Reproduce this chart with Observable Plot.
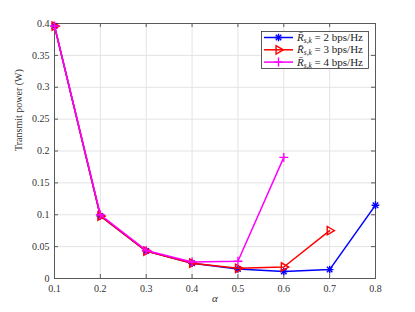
<!DOCTYPE html>
<html><head><meta charset="utf-8">
<script src="https://cdn.jsdelivr.net/npm/d3@7"></script>
<script src="https://cdn.jsdelivr.net/npm/@observablehq/plot@0.6"></script>
<style>body{margin:0;background:#fff}</style>
</head><body><div id="chart"></div>
<script>
const alphas = [0.1, 0.2, 0.3, 0.4, 0.5, 0.6, 0.7, 0.8];
const rates = [2, 3, 4];
const power2 = [0.396, 0.098, 0.043, 0.024, 0.015, 0.011, 0.014, 0.115];
const power3 = [0.396, 0.098, 0.043, 0.024, 0.016, 0.018, 0.075];
const power4 = [0.396, 0.100, 0.044, 0.026, 0.027, 0.190];
const xTicks = [0.1, 0.2, 0.3, 0.4, 0.5, 0.6, 0.7, 0.8];
const yTicks = [0, 0.05, 0.1, 0.15, 0.2, 0.25, 0.3, 0.35, 0.4];
const xLabel = "α";
const yLabel = "Transmit power (W)";

const seriesValues = [power2, power3, power4];
const styles = [
  {color: "#0000ff", symbols: [["plus", 0, 2.6], ["times", 0, 2.6]]},
  {color: "#ff0000", symbols: [["triangle2", 90, 4.0]]},
  {color: "#ff00ff", symbols: [["plus", 0, 3.0]]}
];

const data = [];
seriesValues.forEach((vals, s) => vals.forEach((v, i) => data.push({alpha: alphas[i], power: v, s})));

const W = 415, H = 312, mL = 54, mR = 40, mT = 23, mB = 34;
const pw = W - mL - mR, ph = H - mT - mB;
const fmt = d => String(+d.toFixed(2));
const axisColor = "#5a5a5a";
const tl = 4;

const marks = [
  Plot.gridX(xTicks, {stroke: "#e3e3e3", strokeOpacity: 1}),
  Plot.gridY(yTicks, {stroke: "#e3e3e3", strokeOpacity: 1}),
  Plot.axisX(xTicks, {tickSize: 0, tickPadding: 6, label: null, tickFormat: fmt, fill: "#333"}),
  Plot.axisY(yTicks, {tickSize: 0, tickPadding: 5, label: null, tickFormat: fmt, fill: "#333"}),
  Plot.tickY(yTicks, {y: d => d, insetRight: pw - tl, stroke: axisColor}),
  Plot.tickY(yTicks, {y: d => d, insetLeft: pw - tl, stroke: axisColor}),
  Plot.tickX(xTicks, {x: d => d, insetTop: ph - tl, stroke: axisColor}),
  Plot.tickX(xTicks, {x: d => d, insetBottom: ph - tl, stroke: axisColor}),
  Plot.frame({stroke: axisColor}),
  Plot.text([xLabel], {frameAnchor: "bottom", dy: 23, text: d => d, fill: "#333", fontStyle: "italic", fontSize: 11}),
  Plot.text([yLabel], {frameAnchor: "left", dx: -36, rotate: -90, text: d => d, fill: "#333"})
];
styles.forEach((st, s) => {
  const d = data.filter(r => r.s === s);
  marks.push(Plot.line(d, {x: "alpha", y: "power", stroke: st.color, strokeWidth: 1.5}));
  st.symbols.forEach(([sym, rot, rr]) => {
    marks.push(Plot.dot(d, {x: "alpha", y: "power", stroke: st.color, symbol: sym, rotate: rot, r: rr, strokeWidth: 1.4}));
  });
});

const plot = Plot.plot({
  width: W, height: H, marginLeft: mL, marginRight: mR, marginTop: mT, marginBottom: mB,
  style: {fontFamily: "Liberation Serif, serif", fontSize: "10px", background: "#fff", color: "#333"},
  x: {domain: [0.1, 0.8]},
  y: {domain: [0, 0.4]},
  marks
});
document.getElementById("chart").appendChild(plot);

// Legend
const svg = d3.select(plot);
const lx = 261, ly = 31, lw = 107, lh = 37;
const lg = svg.append("g").attr("font-family", "Liberation Serif, serif").attr("font-size", 11).attr("text-anchor", "start");
lg.append("rect").attr("x", lx + 0.5).attr("y", ly + 0.5).attr("width", lw).attr("height", lh)
  .attr("fill", "#fff").attr("stroke", "#333").attr("stroke-width", 0.8);
const symMap = {plus: d3.symbolPlus, times: d3.symbolTimes, triangle2: d3.symbolTriangle2};
rates.forEach((r, i) => {
  const y = ly + 6.5 + i * 12.3;
  const st = styles[i];
  lg.append("line").attr("x1", lx + 3).attr("x2", lx + 32).attr("y1", y).attr("y2", y)
    .attr("stroke", st.color).attr("stroke-width", 1.5);
  st.symbols.forEach(([sym, rot, rr]) => {
    lg.append("path").attr("d", d3.symbol(symMap[sym], Math.PI * rr * rr)())
      .attr("transform", `translate(${lx + 17.5},${y}) rotate(${rot})`)
      .attr("fill", "none").attr("stroke", st.color).attr("stroke-width", 1.4);
  });
  const t = lg.append("text").attr("x", lx + 36).attr("y", y + 3.5).attr("fill", "#222");
  t.append("tspan").attr("font-style", "italic").text("R\u0304");
  t.append("tspan").attr("font-style", "italic").attr("font-size", 7.5).attr("dy", 2).text("s,k");
  t.append("tspan").attr("dy", -2).text(` = ${r} bps/Hz`);
});
</script>
</body></html>
